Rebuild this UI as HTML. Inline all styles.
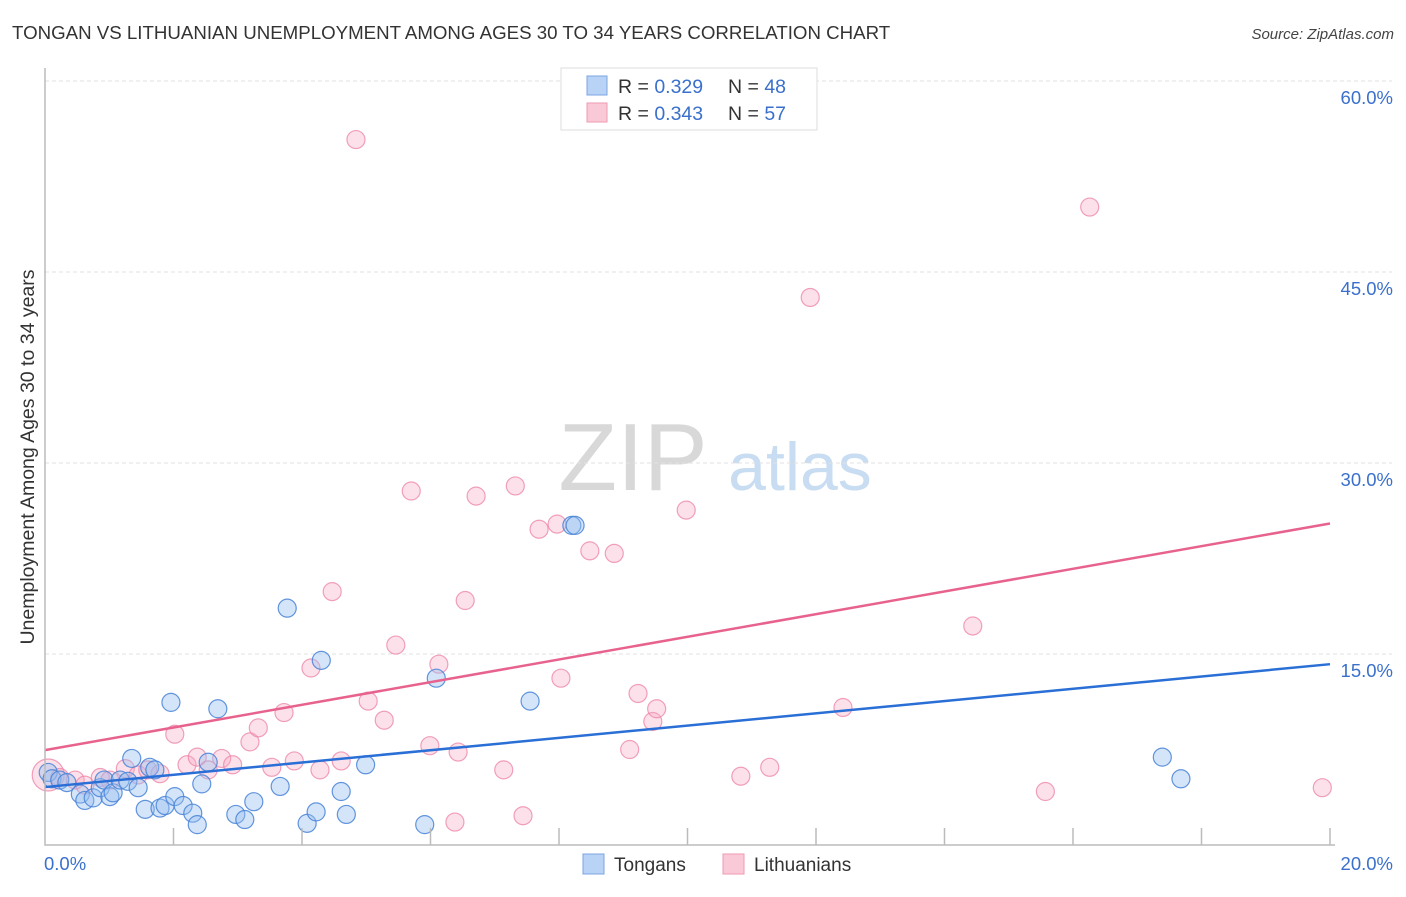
<!DOCTYPE html>
<html><head><meta charset="utf-8"><style>
body{margin:0;background:#fff;font-family:"Liberation Sans",sans-serif;}
svg text{font-family:"Liberation Sans",sans-serif;}
</style></head><body>
<svg id="chart" width="1406" height="892" xmlns="http://www.w3.org/2000/svg">
<text x="12" y="39" font-size="18.7" fill="#333">TONGAN VS LITHUANIAN UNEMPLOYMENT AMONG AGES 30 TO 34 YEARS CORRELATION CHART</text>
<text x="1394" y="39" font-size="15" fill="#444" text-anchor="end" font-style="italic">Source: ZipAtlas.com</text>
<text transform="translate(34,457) rotate(-90)" font-size="19.5" fill="#333" text-anchor="middle">Unemployment Among Ages 30 to 34 years</text>
<g>
<text x="633" y="490" font-size="96" fill="#d8d8d8" text-anchor="middle" font-family="Liberation Serif">ZIP</text>
<text x="800" y="490" font-size="68" fill="#c8dcf2" text-anchor="middle">atlas</text>
</g>
<g id="grid"></g>
<g id="marks"></g>
<g id="axes"></g>
<g>
<rect x="561" y="68" width="256" height="62" fill="#fff" stroke="#ddd"/>
<rect x="587" y="76" width="20" height="19" fill="#b8d3f5" stroke="#7aa6e0"/>
<text x="618" y="93" font-size="19.5" fill="#333">R = <tspan fill="#3a70cc">0.329</tspan></text>
<text x="728" y="93" font-size="19.5" fill="#333">N = <tspan fill="#3a70cc">48</tspan></text>
<rect x="587" y="103" width="20" height="19" fill="#f9c9d7" stroke="#ee9ab2"/>
<text x="618" y="120" font-size="19.5" fill="#333">R = <tspan fill="#3a70cc">0.343</tspan></text>
<text x="728" y="120" font-size="19.5" fill="#333">N = <tspan fill="#3a70cc">57</tspan></text>
</g>
<g>
<rect x="583" y="854" width="21" height="20" fill="#b8d3f5" stroke="#7aa6e0"/>
<text x="614" y="871" font-size="19" fill="#333">Tongans</text>
<rect x="723" y="854" width="21" height="20" fill="#f9c9d7" stroke="#ee9ab2"/>
<text x="754" y="871" font-size="19" fill="#333">Lithuanians</text>
</g>
</svg>
<script>
const yTicks=[15,30,45,60];
const yTickLabels=["15.0%","30.0%","45.0%","60.0%"];
const xTickValues=[0,2,4,6,8,10,12,14,16,18,20];
const tonganX=[0.05,0.11,0.23,0.34,0.55,0.62,0.75,0.86,0.92,1.01,1.06,1.17,1.29,1.35,1.45,1.56,1.63,1.71,1.79,1.87,1.96,2.02,2.15,2.30,2.37,2.44,2.54,2.69,2.97,3.11,3.25,3.66,3.77,4.08,4.22,4.30,4.61,4.69,4.99,5.91,6.09,7.55,8.20,8.25,17.39,17.68];
const tonganY=[5.7,5.2,5.1,4.9,4.0,3.5,3.7,4.5,5.1,3.8,4.1,5.1,5.0,6.8,4.5,2.8,6.1,5.9,2.9,3.1,11.2,3.8,3.1,2.5,1.6,4.8,6.5,10.7,2.4,2.0,3.4,4.6,18.6,1.7,2.6,14.5,4.2,2.4,6.3,1.6,13.1,11.3,25.1,25.1,6.9,5.2];
const lithX=[0.05,0.23,0.47,0.62,0.86,1.01,1.25,1.45,1.60,1.79,2.02,2.21,2.37,2.54,2.75,2.92,3.19,3.32,3.53,3.72,3.88,4.14,4.28,4.47,4.61,4.84,5.03,5.28,5.46,5.70,5.99,6.13,6.38,6.43,6.54,6.71,7.14,7.32,7.44,7.69,7.97,8.03,8.48,8.86,9.10,9.23,9.46,9.52,9.98,10.83,11.28,11.91,12.42,14.44,15.57,16.26,19.88];
const lithY=[5.5,5.3,5.1,4.7,5.3,5.1,6.0,5.5,5.9,5.6,8.7,6.3,6.9,5.9,6.8,6.3,8.1,9.2,6.1,10.4,6.6,13.9,5.9,19.9,6.6,55.4,11.3,9.8,15.7,27.8,7.8,14.2,1.8,7.3,19.2,27.4,5.9,28.2,2.3,24.8,25.2,13.1,23.1,22.9,7.5,11.9,9.7,10.7,26.3,5.4,6.1,43.0,10.8,17.2,4.2,50.1,4.5];
const tonganTrend=[4.55,14.2];
const lithTrend=[7.45,25.25];

const NS="http://www.w3.org/2000/svg";
const X0=45,X1=1330,Y0=845,Y60=81;
const xs=v=>X0+(X1-X0)*v/20;
const ys=v=>Y0-(Y0-Y60)*v/60;
function mk(tag,attrs,parent){const e=document.createElementNS(NS,tag);for(const k in attrs)e.setAttribute(k,attrs[k]);parent.appendChild(e);return e;}
const grid=document.getElementById('grid'),marks=document.getElementById('marks'),axes=document.getElementById('axes');
yTicks.forEach((t,i)=>{
  const l=mk('line',{x1:X0,x2:1392,y1:ys(t),y2:ys(t),stroke:'#e2e2e2','stroke-dasharray':'4,3'},grid);
  
  
  const tx=mk('text',{x:1393,y:ys(t)+23,'font-size':18.5,fill:'#3a70cc','text-anchor':'end'},axes);
  tx.textContent=yTickLabels[i];
  
  
});
xTickValues.forEach(v=>{
  if(v===0)return;
  const l=mk('line',{x1:xs(v),x2:xs(v),y1:828,y2:Y0,stroke:'#bbb','stroke-width':1.5},axes);
  
  
});
const ax=mk('path',{d:`M${X0},68 L${X0},${Y0} L1335,${Y0}`,fill:'none',stroke:'#bbb','stroke-width':1.5},axes);


const xl0=mk('text',{x:44,y:870,'font-size':18.5,fill:'#3a70cc'},axes);xl0.textContent='0.0%';


const xl1=mk('text',{x:1393,y:870,'font-size':18.5,fill:'#3a70cc','text-anchor':'end'},axes);xl1.textContent='20.0%';



lithX.forEach((x,i)=>{
  const c=mk('circle',{cx:xs(x),cy:ys(lithY[i]),r:i===0?16:9,fill:'rgba(246,170,195,0.35)',stroke:'rgba(236,130,165,0.75)','stroke-width':1.2},marks);
  
  
});
tonganX.forEach((x,i)=>{
  const c=mk('circle',{cx:xs(x),cy:ys(tonganY[i]),r:9,fill:'rgba(150,190,240,0.4)',stroke:'rgba(70,130,215,0.85)','stroke-width':1.2},marks);
  
  
});
const lt=mk('line',{x1:xs(0),y1:ys(lithTrend[0]),x2:xs(20),y2:ys(lithTrend[1]),stroke:'#e8628e','stroke-width':2.5},marks);


const tt=mk('line',{x1:xs(0),y1:ys(tonganTrend[0]),x2:xs(20),y2:ys(tonganTrend[1]),stroke:'#2a6fd6','stroke-width':2.5},marks);


</script>
</body></html>
